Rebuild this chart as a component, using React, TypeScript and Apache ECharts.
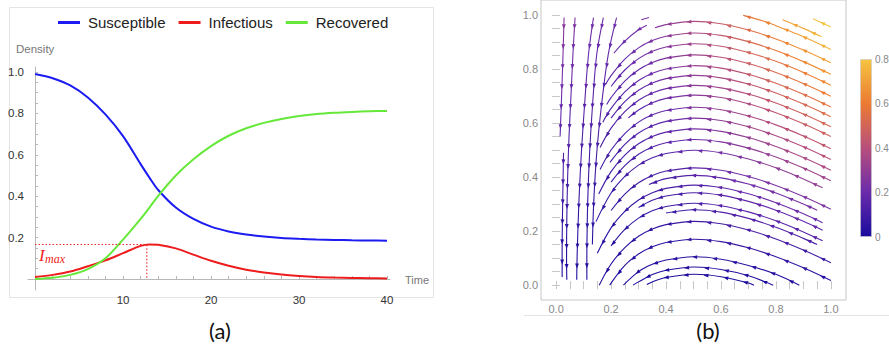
import React, { useEffect, useRef } from "react";
import * as echarts from "echarts";

// ---------- Panel (a): SIR densities ----------
const TIME = [0, 2, 4, 6, 8, 10, 12, 13, 14, 16, 18, 20, 22, 24, 26, 28, 30, 32, 34, 36, 38, 40];
const SUSCEPTIBLE = [0.99, 0.97, 0.935, 0.877, 0.795, 0.69, 0.555, 0.49, 0.43, 0.345, 0.29, 0.253, 0.23, 0.215, 0.205, 0.198, 0.194, 0.191, 0.189, 0.187, 0.186, 0.185];
const INFECTIOUS = [0.01, 0.02, 0.036, 0.062, 0.09, 0.125, 0.16, 0.167, 0.165, 0.148, 0.118, 0.088, 0.064, 0.045, 0.032, 0.022, 0.015, 0.01, 0.007, 0.005, 0.004, 0.003];
const RECOVERED = [0.0, 0.006, 0.02, 0.048, 0.1, 0.19, 0.29, 0.345, 0.402, 0.5, 0.578, 0.642, 0.692, 0.728, 0.754, 0.773, 0.787, 0.797, 0.803, 0.807, 0.81, 0.812];
const I_MAX = 0.167;
const T_PEAK = 12.7;
const X_LABELS_A = [10, 20, 30, 40];
const X_TICKS_A = [2, 4, 6, 8, 10, 12, 14, 16, 18, 20, 22, 24, 26, 28, 30, 32, 34, 36, 38, 40];
const Y_LABELS_A = [0.2, 0.4, 0.6, 0.8, 1.0];
const Y_TICKS_A = [0.05, 0.1, 0.15, 0.2, 0.25, 0.3, 0.35, 0.4, 0.45, 0.5, 0.55, 0.6, 0.65, 0.7, 0.75, 0.8, 0.85, 0.9, 0.95, 1.0];
const LEGEND_NAMES = ["Susceptible", "Infectious", "Recovered"];

// ---------- Panel (b): stream lines (S on x, I on y) ----------
// arcs listed with S increasing; the flow runs toward smaller S
const ARCS: number[][][] = [
  [[0.36, 0.952], [0.4, 0.964], [0.5, 0.976], [0.6, 0.967], [0.7, 0.944], [0.8, 0.911], [0.9, 0.87], [1.0, 0.823]],
  [[0.18, 0.742], [0.2, 0.775], [0.25, 0.836], [0.3, 0.878], [0.35, 0.905], [0.4, 0.921], [0.5, 0.933], [0.6, 0.924], [0.7, 0.901], [0.8, 0.868], [0.9, 0.827], [1.0, 0.78]],
  [[0.2, 0.735], [0.25, 0.796], [0.3, 0.838], [0.35, 0.865], [0.4, 0.881], [0.5, 0.893], [0.6, 0.884], [0.7, 0.861], [0.8, 0.828], [0.9, 0.787], [1.0, 0.74]],
  [[0.184, 0.668], [0.2, 0.694], [0.25, 0.755], [0.3, 0.797], [0.35, 0.824], [0.4, 0.84], [0.5, 0.852], [0.6, 0.843], [0.7, 0.82], [0.8, 0.787], [0.9, 0.746], [1.0, 0.699]],
  [[0.17, 0.603], [0.2, 0.654], [0.25, 0.715], [0.3, 0.757], [0.35, 0.784], [0.4, 0.8], [0.5, 0.812], [0.6, 0.803], [0.7, 0.78], [0.8, 0.747], [0.9, 0.706], [1.0, 0.659]],
  [[0.2, 0.618], [0.25, 0.679], [0.3, 0.721], [0.35, 0.748], [0.4, 0.764], [0.5, 0.776], [0.6, 0.767], [0.7, 0.744], [0.8, 0.711], [0.9, 0.67], [1.0, 0.623]],
  [[0.16, 0.509], [0.2, 0.581], [0.25, 0.642], [0.3, 0.684], [0.35, 0.711], [0.4, 0.727], [0.5, 0.739], [0.6, 0.73], [0.7, 0.707], [0.8, 0.674], [0.9, 0.633], [1.0, 0.586]],
  [[0.263, 0.619], [0.3, 0.648], [0.35, 0.675], [0.4, 0.691], [0.5, 0.703], [0.6, 0.694], [0.7, 0.671], [0.8, 0.638], [0.9, 0.597], [1.0, 0.55]],
  [[0.16, 0.428], [0.2, 0.5], [0.25, 0.561], [0.3, 0.603], [0.35, 0.63], [0.4, 0.646], [0.5, 0.658], [0.6, 0.649], [0.7, 0.626], [0.8, 0.593], [0.9, 0.552], [1.0, 0.505]],
  [[0.196, 0.454], [0.25, 0.521], [0.3, 0.563], [0.35, 0.59], [0.4, 0.606], [0.5, 0.618], [0.6, 0.609], [0.7, 0.586], [0.8, 0.553], [0.9, 0.512], [1.0, 0.465]],
  [[0.155, 0.337], [0.2, 0.42], [0.25, 0.481], [0.3, 0.523], [0.35, 0.55], [0.4, 0.566], [0.5, 0.578], [0.6, 0.569], [0.7, 0.546], [0.8, 0.513], [0.9, 0.472], [1.0, 0.425]],
  [[0.2, 0.381], [0.25, 0.442], [0.3, 0.484], [0.35, 0.511], [0.4, 0.527], [0.5, 0.539], [0.6, 0.53], [0.7, 0.507], [0.8, 0.474], [0.9, 0.433], [1.0, 0.386]],
  [[0.145, 0.235], [0.2, 0.341], [0.25, 0.402], [0.3, 0.444], [0.35, 0.471], [0.4, 0.487], [0.5, 0.499], [0.6, 0.49], [0.7, 0.467], [0.8, 0.434], [0.9, 0.393], [0.97, 0.36]],
  [[0.2, 0.276], [0.25, 0.337], [0.3, 0.379], [0.35, 0.406], [0.4, 0.422], [0.5, 0.434], [0.6, 0.425], [0.7, 0.402], [0.8, 0.369], [0.9, 0.328], [1.0, 0.281]],
  [[0.338, 0.372], [0.4, 0.394], [0.5, 0.406], [0.6, 0.397], [0.7, 0.374], [0.8, 0.341], [0.9, 0.3], [0.95, 0.277]],
  [[0.15, 0.118], [0.2, 0.212], [0.25, 0.273], [0.3, 0.315], [0.35, 0.342], [0.4, 0.358], [0.5, 0.37], [0.6, 0.361], [0.7, 0.338], [0.8, 0.305], [0.9, 0.264], [0.97, 0.231]],
  [[0.3, 0.287], [0.35, 0.314], [0.4, 0.33], [0.5, 0.342], [0.6, 0.333], [0.7, 0.31], [0.8, 0.277], [0.9, 0.236], [0.97, 0.203]],
  [[0.2, 0.145], [0.25, 0.206], [0.3, 0.248], [0.35, 0.275], [0.4, 0.291], [0.5, 0.303], [0.6, 0.294], [0.7, 0.271], [0.8, 0.238], [0.9, 0.197], [0.97, 0.164]],
  [[0.4, 0.267], [0.5, 0.279], [0.6, 0.27], [0.7, 0.247], [0.8, 0.214], [0.9, 0.173], [0.95, 0.15]],
  [[0.157, 0.0], [0.2, 0.078], [0.25, 0.139], [0.3, 0.181], [0.35, 0.208], [0.4, 0.224], [0.5, 0.236], [0.6, 0.227], [0.7, 0.204], [0.8, 0.171], [0.9, 0.13], [1.0, 0.083]],
  [[0.195, 0.0], [0.25, 0.073], [0.3, 0.115], [0.35, 0.142], [0.4, 0.158], [0.5, 0.17], [0.6, 0.161], [0.7, 0.138], [0.8, 0.105], [0.9, 0.064], [1.0, 0.017]],
  [[0.245, 0.0], [0.3, 0.05], [0.35, 0.077], [0.4, 0.093], [0.5, 0.105], [0.6, 0.096], [0.7, 0.073], [0.8, 0.04], [0.885, 0.0]],
  [[0.28, 0.0], [0.3, 0.012], [0.35, 0.039], [0.4, 0.055], [0.5, 0.067], [0.6, 0.058], [0.7, 0.035], [0.79, 0.0]],
  [[0.33, 0.002], [0.35, 0.012], [0.4, 0.028], [0.5, 0.04], [0.6, 0.031], [0.7, 0.008], [0.72, 0.0]],
  [[0.681, 0.998], [0.75, 0.978], [0.8, 0.96], [0.85, 0.94], [0.9, 0.919], [0.95, 0.896], [1.0, 0.872]],
  [[0.824, 0.982], [0.9, 0.95], [0.966, 0.919]],
  [[0.935, 0.986], [1.0, 0.955]],
  [[0.31, 0.982], [0.338, 0.99]],
  [[0.21, 0.858], [0.25, 0.903], [0.3, 0.945], [0.33, 0.962]],
];
// near-vertical lines on the left, listed in flow order (top to bottom)
const LEFT_LINES: number[][][] = [
  [[0.029, 0.99], [0.025, 0.85], [0.02, 0.7], [0.0145, 0.55]],
  [[0.027, 0.49], [0.024, 0.31], [0.022, 0.16], [0.022, 0.03]],
  [[0.069, 0.99], [0.062, 0.87], [0.055, 0.72], [0.047, 0.55], [0.042, 0.4], [0.039, 0.25], [0.038, 0.1], [0.039, 0.02]],
  [[0.136, 0.99], [0.118, 0.855], [0.104, 0.673], [0.092, 0.491], [0.083, 0.309], [0.077, 0.127], [0.075, 0.02]],
  [[0.172, 0.99], [0.148, 0.855], [0.133, 0.673], [0.122, 0.491], [0.115, 0.309], [0.112, 0.127], [0.112, 0.02]],
  [[0.22, 0.99], [0.19, 0.855], [0.166, 0.673], [0.148, 0.491], [0.137, 0.309], [0.132, 0.15]],
];
const TICKS_B = [0, 0.2, 0.4, 0.6, 0.8, 1.0];
const MINOR_TICKS_B = [0, 0.05, 0.1, 0.15, 0.2, 0.25, 0.3, 0.35, 0.4, 0.45, 0.5, 0.55, 0.6, 0.65, 0.7, 0.75, 0.8, 0.85, 0.9, 0.95, 1.0];
const COLORBAR_LABELS = ["0.8", "0.6", "0.4", "0.2", "0"];
const COLORBAR_MAX = 0.8;

// ---------- styles ----------
const PALETTE = ["#1a0c9e", "#6b2bab", "#b74f7c", "#ec7a33", "#f5c440"];
const SANS = "Liberation Sans";

const STREAMS: number[][][] = [...ARCS.map((a) => a.slice().reverse()), ...LEFT_LINES];

// colour of a stream line = magnitude of the flow at that place (colour scale only)
function speedAt(x: number, y: number) {
  return y * Math.sqrt((0.75 * x) ** 2 + (0.75 * x - 0.3) ** 2);
}
function colorAt(x: number, y: number) {
  const t = Math.max(0, Math.min(1, speedAt(x, y) / COLORBAR_MAX));
  return echarts.color.lerp(t, PALETTE) as string;
}

function renderStream(params: any, api: any) {
  const line = STREAMS[api.value(2)];
  const pts = line.map((p) => api.coord(p));
  const [x0, y0] = pts[0];
  const [x1, y1] = pts[pts.length - 1];
  const dx = x1 - x0, dy = y1 - y0;
  const L2 = dx * dx + dy * dy || 1;
  let prev = 0;
  const stops = line.map((p, i) => {
    let o = ((pts[i][0] - x0) * dx + (pts[i][1] - y0) * dy) / L2;
    o = Math.max(prev, Math.min(1, Math.max(0, o)));
    prev = o;
    return { offset: o, color: colorAt(p[0], p[1]) };
  });
  const grad = new echarts.graphic.LinearGradient(x0, y0, x1, y1, stops, true);
  const children: any[] = [
    {
      type: "polyline",
      shape: { points: pts, smooth: 0.35 },
      style: { stroke: grad, lineWidth: 1.1, fill: "none" },
    },
  ];
  const segLen: number[] = [];
  let total = 0;
  for (let i = 1; i < pts.length; i++) {
    const l = Math.hypot(pts[i][0] - pts[i - 1][0], pts[i][1] - pts[i - 1][1]);
    segLen.push(l);
    total += l;
  }
  const spacing = 20;
  for (let s = 9; s < total - 3; s += spacing) {
    let acc = 0, k = 0;
    while (k < segLen.length - 1 && acc + segLen[k] < s) { acc += segLen[k]; k++; }
    const f = segLen[k] ? (s - acc) / segLen[k] : 0;
    const px = pts[k][0] + (pts[k + 1][0] - pts[k][0]) * f;
    const py = pts[k][1] + (pts[k + 1][1] - pts[k][1]) * f;
    const ux = (pts[k + 1][0] - pts[k][0]) / (segLen[k] || 1);
    const uy = (pts[k + 1][1] - pts[k][1]) / (segLen[k] || 1);
    const dxv = line[k][0] + (line[k + 1][0] - line[k][0]) * f;
    const dyv = line[k][1] + (line[k + 1][1] - line[k][1]) * f;
    const tip = [px + ux * 2.7, py + uy * 2.7];
    const bx = px - ux * 2.3, by = py - uy * 2.3;
    children.push({
      type: "polygon",
      shape: { points: [tip, [bx - uy * 1.9, by + ux * 1.9], [bx + uy * 1.9, by - ux * 1.9]] },
      style: { fill: colorAt(dxv, dyv) },
    });
  }
  return { type: "group", children };
}

const gray = "#b8b8b8";
const frameGray = "#c6c6c6";

const option: any = {
  animation: false,
  backgroundColor: "#ffffff",
  legend: {
    data: LEGEND_NAMES,
    left: 53,
    top: 10,
    icon: "rect",
    itemWidth: 22,
    itemHeight: 3,
    itemGap: 13,
    textStyle: { fontSize: 15, color: "#222", fontFamily: SANS, padding: [0, 0, 0, 3] },
  },
  grid: [
    { left: 28, top: 67, width: 362, height: 223 },
    { left: 541, top: -5, width: 305, height: 305, show: true, borderColor: frameGray, borderWidth: 1 },
  ],
  xAxis: [
    {
      gridIndex: 0, type: "value", min: -0.8, max: 40.34,
      axisLine: { onZero: true, lineStyle: { color: gray, width: 1 } },
      axisTick: { inside: true, length: 3, customValues: X_TICKS_A, lineStyle: { color: gray } },
      axisLabel: { customValues: X_LABELS_A, fontSize: 11.5, color: "#333", fontFamily: SANS, margin: 4 },
      splitLine: { show: false },
    },
    {
      gridIndex: 1, type: "value", min: -0.055, max: 1.055, position: "bottom",
      axisLine: { show: false },
      axisTick: { inside: true, length: 4, customValues: MINOR_TICKS_B, lineStyle: { color: frameGray } },
      axisLabel: { customValues: TICKS_B, formatter: (v: number) => v.toFixed(1), fontSize: 11, color: "#888", fontFamily: SANS, margin: 3 },
      splitLine: { show: false },
    },
    {
      gridIndex: 1, type: "value", min: -0.055, max: 1.055, position: "top",
      axisLine: { show: false },
      axisTick: { inside: true, length: 4, customValues: MINOR_TICKS_B, lineStyle: { color: frameGray } },
      axisLabel: { show: false },
      splitLine: { show: false },
    },
  ],
  yAxis: [
    {
      gridIndex: 0, type: "value", min: -0.053, max: 1.024,
      axisLine: { show: true, onZero: true, lineStyle: { color: gray, width: 1 } },
      axisTick: { show: true, inside: true, length: 3, customValues: Y_TICKS_A, lineStyle: { color: gray } },
      axisLabel: { customValues: Y_LABELS_A, formatter: (v: number) => v.toFixed(1), fontSize: 11.5, color: "#333", fontFamily: SANS, margin: 4 },
      splitLine: { show: false },
    },
    {
      gridIndex: 1, type: "value", min: -0.055, max: 1.055, position: "left",
      axisLine: { show: false },
      axisTick: { show: true, inside: true, length: 4, customValues: MINOR_TICKS_B, lineStyle: { color: frameGray } },
      axisLabel: { customValues: TICKS_B, formatter: (v: number) => v.toFixed(1), fontSize: 11, color: "#888", fontFamily: SANS, margin: 3 },
      splitLine: { show: false },
    },
    {
      gridIndex: 1, type: "value", min: -0.055, max: 1.055, position: "right",
      axisLine: { show: false },
      axisTick: { show: true, inside: true, length: 4, customValues: MINOR_TICKS_B, lineStyle: { color: frameGray } },
      axisLabel: { show: false },
      splitLine: { show: false },
    },
  ],
  series: [
    {
      name: "Susceptible", type: "line", xAxisIndex: 0, yAxisIndex: 0, smooth: 0.3, showSymbol: false,
      data: TIME.map((t, i) => [t, SUSCEPTIBLE[i]]),
      lineStyle: { color: "#1b1bf2", width: 2 }, itemStyle: { color: "#1b1bf2" },
    },
    {
      name: "Infectious", type: "line", xAxisIndex: 0, yAxisIndex: 0, smooth: 0.3, showSymbol: false,
      data: TIME.map((t, i) => [t, INFECTIOUS[i]]),
      lineStyle: { color: "#ee1c1c", width: 2 }, itemStyle: { color: "#ee1c1c" },
    },
    {
      name: "Recovered", type: "line", xAxisIndex: 0, yAxisIndex: 0, smooth: 0.3, showSymbol: false,
      data: TIME.map((t, i) => [t, RECOVERED[i]]),
      lineStyle: { color: "#66e83a", width: 2 }, itemStyle: { color: "#66e83a" },
    },
    {
      name: "peak", type: "line", xAxisIndex: 0, yAxisIndex: 0, showSymbol: false, silent: true,
      data: [[0, I_MAX], [T_PEAK, I_MAX], [T_PEAK, 0]],
      lineStyle: { color: "#ee2222", width: 1.1, type: [1.5, 2] },
    },
    {
      name: "streams", type: "custom", xAxisIndex: 1, yAxisIndex: 1, silent: true,
      data: STREAMS.map((l, i) => [l[0][0], l[0][1], i]),
      encode: { x: 0, y: 1 },
      renderItem: renderStream,
    },
  ],
  graphic: [
    { type: "rect", shape: { x: 9.5, y: 7.5, width: 424, height: 290 }, style: { fill: "none", stroke: "#e4e4e4", lineWidth: 1 }, z: -1 },
    { type: "line", shape: { x1: 524, y1: 315.5, x2: 889, y2: 315.5 }, style: { stroke: "#e4e4e4", lineWidth: 1 } },
    { type: "text", x: 16, y: 49, style: { text: "Density", fontSize: 11.5, fill: "#777", fontFamily: SANS, verticalAlign: "middle" } },
    { type: "text", x: 405, y: 280, style: { text: "Time", fontSize: 11, fill: "#777", fontFamily: SANS, verticalAlign: "middle" } },
    { type: "text", x: 39, y: 247, style: { text: "I", fontSize: 17, fill: "#ee2222", fontFamily: "Liberation Serif", fontStyle: "italic" } },
    { type: "text", x: 45, y: 253, style: { text: "max", fontSize: 12, fill: "#ee2222", fontFamily: "Liberation Serif", fontStyle: "italic" } },
    { type: "text", x: 220, y: 330, style: { text: "(a)", fontSize: 22, fill: "#111", fontFamily: "Lato", align: "center", verticalAlign: "middle" } },
    { type: "text", x: 708, y: 330, style: { text: "(b)", fontSize: 22, fill: "#111", fontFamily: "Lato", align: "center", verticalAlign: "middle" } },
    {
      type: "rect", shape: { x: 860.5, y: 59.5, width: 11, height: 177 },
      style: {
        stroke: "#c8c8c8", lineWidth: 0.6,
        fill: new echarts.graphic.LinearGradient(0, 0, 0, 1, PALETTE.slice().reverse().map((c, i) => ({ offset: i / (PALETTE.length - 1), color: c }))),
      },
    },
    ...COLORBAR_LABELS.map((t, i) => ({
      type: "text", x: 875, y: 59 + i * 44.5,
      style: { text: t, fontSize: 10, fill: "#888", fontFamily: SANS, verticalAlign: "middle" },
    })),
  ],
};

export default function App() {
  const ref = useRef<HTMLDivElement>(null);
  useEffect(() => {
    document.body.style.margin = "0";
    const chart = echarts.init(ref.current!, null, { renderer: "svg" });
    chart.setOption(option);
    return () => chart.dispose();
  }, []);
  return <div ref={ref} style={{ width: 889, height: 348 }} />;
}
